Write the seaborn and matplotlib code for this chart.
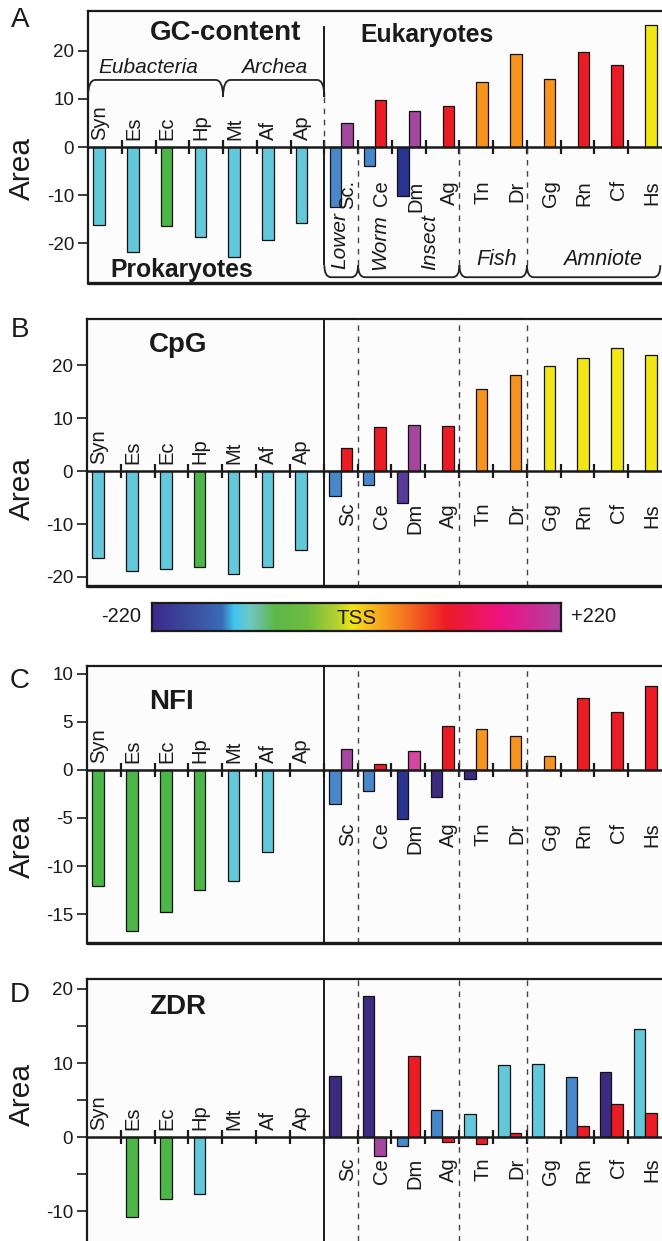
import numpy as np
import pandas as pd
import matplotlib
matplotlib.use("Agg")
import matplotlib.pyplot as plt
import seaborn as sns
from matplotlib.path import Path
from matplotlib.patches import PathPatch
from matplotlib.colors import LinearSegmentedColormap

# ---------------- data ----------------
species = ['Syn', 'Es', 'Ec', 'Hp', 'Mt', 'Af', 'Ap',
           'Sc', 'Ce', 'Dm', 'Ag', 'Tn', 'Dr', 'Gg', 'Rn', 'Cf', 'Hs']
N_PROK = 7
NaN = np.nan

# GC-content
gc_left = [-16.2, -21.7, -16.4, -18.7, -22.8, -19.2, -15.8,
           -12.4, -3.9, -10.2, NaN, NaN, NaN, NaN, NaN, NaN, NaN]
gc_left_col = ['cyan', 'cyan', 'green', 'cyan', 'cyan', 'cyan', 'cyan',
               'blue', 'blue', 'navy', None, None, None, None, None, None, None]
gc_right = [NaN, NaN, NaN, NaN, NaN, NaN, NaN,
            4.9, 9.75, 7.5, 8.5, 13.5, 19.2, 14.0, 19.6, 17.0, 25.3]
gc_right_col = [None, None, None, None, None, None, None,
                'purple', 'red', 'purple', 'red', 'orange', 'orange', 'orange', 'red', 'red', 'yellow']

# CpG
cpg_left = [-16.5, -18.9, -18.4, -18.2, -19.4, -18.2, -14.9,
            -4.8, -2.6, -6.1, NaN, NaN, NaN, NaN, NaN, NaN, NaN]
cpg_left_col = ['cyan', 'cyan', 'cyan', 'green', 'cyan', 'cyan', 'cyan',
                'blue', 'blue', 'violet', None, None, None, None, None, None, None]
cpg_right = [NaN, NaN, NaN, NaN, NaN, NaN, NaN,
             4.3, 8.4, 8.7, 8.5, 15.4, 18.1, 19.9, 21.3, 23.3, 21.9]
cpg_right_col = [None, None, None, None, None, None, None,
                 'red', 'red', 'purple', 'red', 'orange', 'orange', 'yellow', 'yellow', 'yellow', 'yellow']

# NFI
nfi_left = [-12.1, -16.8, -14.8, -12.5, -11.6, -8.5, NaN,
            -3.5, -2.2, -5.1, -2.8, -1.0, NaN, NaN, NaN, NaN, NaN]
nfi_left_col = ['green', 'green', 'green', 'green', 'cyan', 'cyan', None,
                'blue', 'blue', 'navy', 'indigo', 'indigo', None, None, None, None, None]
nfi_right = [NaN, NaN, NaN, NaN, NaN, NaN, NaN,
             2.2, 0.6, 2.0, 4.6, 4.3, 3.5, 1.46, 7.5, 6.0, 8.75]
nfi_right_col = [None, None, None, None, None, None, None,
                 'purple', 'red', 'magenta', 'red', 'orange', 'orange', 'orange', 'red', 'red', 'red']

# ZDR
zdr_left = [NaN, -10.85, -8.4, -7.7, NaN, NaN, NaN,
            8.3, 19.0, -1.2, 3.6, 3.1, 9.7, 9.9, 8.1, 8.8, 14.6]
zdr_left_col = [None, 'green', 'green', 'cyan', None, None, None,
                'indigo', 'indigo', 'blue', 'blue', 'cyan', 'cyan', 'cyan', 'blue', 'indigo', 'cyan']
zdr_right = [NaN, NaN, NaN, NaN, NaN, NaN, NaN,
             NaN, -2.5, 11.0, -0.7, -0.95, 0.6, NaN, 1.5, 4.4, 3.2]
zdr_right_col = [None, None, None, None, None, None, None,
                 None, 'purple', 'red', 'red', 'red', 'red', None, 'red', 'red', 'red']

COLORS = dict(cyan='#63c8da', green='#4cb748', blue='#4887c8', navy='#2b3590',
              indigo='#3d2b80', violet='#573a99', purple='#a4479e', magenta='#d5469f',
              red='#ec1c24', orange='#f7941d', yellow='#f1e616')

cbar_stops = [0.0, 0.10, 0.17, 0.20, 0.24, 0.30, 0.38, 0.45, 0.49, 0.55, 0.62, 0.72, 0.86, 1.0]
cbar_colors = ['#3c2a8c', '#3a50a0', '#3a6cb8', '#3fc6ee', '#72c6c4', '#5cb848', '#70bc40',
               '#b2d030', '#f2e414', '#f8ae20', '#f47420', '#ed1c24', '#ec1384', '#b043a0']

# ---------------- style ----------------
sns.set_theme(style="white")
plt.rcParams['font.family'] = ['Liberation Sans', 'DejaVu Sans']
plt.rcParams['axes.unicode_minus'] = False

W, H = 662, 1241
fig = plt.figure(figsize=(W / 100, H / 100), dpi=100)
fig.patch.set_facecolor('white')


def fx(px):
    return px / W


def fy(py):
    return 1 - py / H


def bracket(ax, x0, x1, yflat, yend, r=0.22):
    verts = [(x0, yend), (x0, yflat), (x0 + r, yflat), (x1 - r, yflat),
             (x1, yflat), (x1, yend)]
    codes = [Path.MOVETO, Path.CURVE3, Path.CURVE3, Path.LINETO, Path.CURVE3, Path.CURVE3]
    ax.add_patch(PathPatch(Path(verts, codes), fc='none', ec='#222222', lw=1.3, zorder=4))


def panel(rect, left, left_col, right, right_col, ylim, yticks, minor=None,
          below_off=24, title='', title_y=0.9, bottom_box=True, sc_label='Sc'):
    ax = fig.add_axes(rect)
    ax.set_facecolor('#fcfcfc')
    rows = []
    for i, sp in enumerate(species):
        if not np.isnan(left[i]):
            rows.append((sp, 'L', left[i], left_col[i]))
        if not np.isnan(right[i]):
            rows.append((sp, 'R', right[i], right_col[i]))
    df = pd.DataFrame(rows, columns=['species', 'pos', 'area', 'col'])
    sns.barplot(data=df, x='species', y='area', hue='pos', hue_order=['L', 'R'],
                order=species, dodge=True, width=0.68, gap=0, errorbar=None,
                edgecolor='#111111', linewidth=0.9, legend=False, ax=ax, zorder=3)
    lookup = {(r.species, r.pos): COLORS[r.col] for r in df.itertuples()}
    for p in ax.patches:
        xc = p.get_x() + p.get_width() / 2
        idx = int(round(xc))
        pos = 'L' if xc < idx else 'R'
        key = (species[idx], pos)
        if key in lookup:
            p.set_facecolor(lookup[key])
    ax.set_xlabel('')
    ax.set_ylabel('')
    ax.set_xlim(-0.5, 16.5)
    ax.set_ylim(*ylim)
    # axis at zero with in/out ticks at category boundaries
    ax.spines['bottom'].set_position(('data', 0))
    ax.spines['bottom'].set_linewidth(1.8)
    ax.spines['bottom'].set_zorder(5)
    ax.spines['right'].set_visible(False)
    for s in ('top', 'left'):
        ax.spines[s].set_linewidth(1.6)
        ax.spines[s].set_color('#1a1a1a')
    ax.spines['bottom'].set_color('#1a1a1a')
    ax.set_xticks(np.arange(0.5, 16, 1.0))
    ax.set_xticklabels([])
    ax.tick_params(axis='x', direction='inout', length=10, width=1.6, color='#1a1a1a', bottom=True)
    ax.set_yticks(yticks)
    ax.set_yticklabels([str(int(t)) for t in yticks])
    if minor is not None:
        ax.set_yticks(minor, minor=True)
    ax.tick_params(axis='y', which='both', direction='out', length=7, width=1.2,
                   labelsize=13.5, pad=3, left=True, color='#1a1a1a', labelcolor='#1a1a1a')
    if bottom_box:
        ax.plot([0, 1], [0, 0], transform=ax.transAxes, color='#1a1a1a', lw=2.4,
                clip_on=False, zorder=6)
    # category labels
    for i, sp in enumerate(species):
        if i < N_PROK:
            ax.annotate(sp, xy=(i - 0.15, 0), xytext=(0, 5), textcoords='offset points',
                        rotation=90, ha='center', va='bottom', fontsize=14.5, color='#1a1a1a')
        else:
            lab = sc_label if sp == 'Sc' else sp
            ax.annotate(lab, xy=(i + 0.2, 0), xytext=(0, -below_off), textcoords='offset points',
                        rotation=90, ha='center', va='top', fontsize=14.5, color='#1a1a1a')
    ax.text(0.108, title_y, title, transform=ax.transAxes, fontsize=20, fontweight='bold',
            ha='left', va='center', color='#1a1a1a')
    return ax


# ---------------- panel A ----------------
axA = panel([fx(88), fy(283), 1 - fx(88), (283 - 11) / H], gc_left, gc_left_col, gc_right,
            gc_right_col, (-28.2, 28.2), [-20, -10, 0, 10, 20], below_off=24,
            title='GC-content', title_y=0.919, sc_label='Sc.')
axA.vlines([6.5], 10.4, 25.0, colors='#1a1a1a', lw=1.4, zorder=4)
axA.vlines([6.5], -24.5, 0, colors='#1a1a1a', lw=1.4, zorder=4)
axA.vlines([6.5], 0, 10.4, colors='#444444', lw=1.0, linestyles=(0, (4, 4)), zorder=4)
axA.vlines([7.5, 10.5, 12.5], -24.5, 0, colors='#444444', lw=1.0, linestyles=(0, (4, 4)), zorder=4)
bracket(axA, -0.5, 3.5, 13.9, 10.4)
bracket(axA, 3.5, 6.5, 13.9, 10.4)
for x0, x1 in [(6.5, 7.5), (7.5, 10.5), (10.5, 12.5), (12.5, 16.45)]:
    bracket(axA, x0, x1, -27.0, -24.5, r=0.2)
axA.text(1.3, 16.4, 'Eubacteria', style='italic', fontsize=15, ha='center', va='center', color='#1a1a1a')
axA.text(5.0, 16.4, 'Archea', style='italic', fontsize=15, ha='center', va='center', color='#1a1a1a')
axA.text(6.96, -19.3, 'Lower', style='italic', fontsize=15, rotation=90, ha='center', va='center', color='#1a1a1a')
axA.text(8.15, -19.7, 'Worm', style='italic', fontsize=15, rotation=90, ha='center', va='center', color='#1a1a1a')
axA.text(9.63, -19.7, 'Insect', style='italic', fontsize=15, rotation=90, ha='center', va='center', color='#1a1a1a')
axA.text(11.6, -23.4, 'Fish', style='italic', fontsize=15.5, ha='center', va='center', color='#1a1a1a')
axA.text(14.75, -23.4, 'Amniote', style='italic', fontsize=15.5, ha='center', va='center', color='#1a1a1a')
axA.text(9.53, 23.2, 'Eukaryotes', fontweight='bold', fontsize=17.8, ha='center', va='center', color='#1a1a1a')
axA.text(2.27, -25.5, 'Prokaryotes', fontweight='bold', fontsize=17.8, ha='center', va='center', color='#1a1a1a')

# ---------------- panel B ----------------
axB = panel([fx(87), fy(586), 1 - fx(87), (586 - 319) / H], cpg_left, cpg_left_col, cpg_right,
            cpg_right_col, (-21.7, 28.7), [-20, -10, 0, 10, 20], below_off=23,
            title='CpG', title_y=0.903)

# ---------------- panel C ----------------
axC = panel([fx(87), fy(943), 1 - fx(87), (943 - 666) / H], nfi_left, nfi_left_col, nfi_right,
            nfi_right_col, (-18.0, 10.8), [-15, -10, -5, 0, 5, 10], below_off=38,
            title='NFI', title_y=0.870)

# ---------------- panel D ----------------
axD = panel([fx(87), 0.0, 1 - fx(87), (1241 - 979) / H], zdr_left, zdr_left_col, zdr_right,
            zdr_right_col, (-14.05, 21.35), [-10, 0, 10, 20], minor=[-5, 5, 15], below_off=15,
            title='ZDR', title_y=0.893, bottom_box=False)

for ax in (axB, axC, axD):
    lo, hi = ax.get_ylim()
    ax.vlines([6.5], lo, hi, colors='#1a1a1a', lw=1.4, zorder=4)
    ax.vlines([7.5, 10.5, 12.5], lo, hi, colors='#444444', lw=1.0, linestyles=(0, (4, 4)), zorder=4)

# ---------------- colour bar ----------------
cmap = LinearSegmentedColormap.from_list('tss', list(zip(cbar_stops, cbar_colors)))
cax = fig.add_axes([fx(152), fy(631), fx(561) - fx(152), (631 - 603) / H])
cax.imshow(np.linspace(0, 1, 512)[None, :], aspect='auto', cmap=cmap, extent=[0, 1, 0, 1])
cax.set_xticks([])
cax.set_yticks([])
for s in cax.spines.values():
    s.set_visible(True)
    s.set_linewidth(1.6)
    s.set_color('#1a1a1a')
cax.text(0.5, 0.45, 'TSS', transform=cax.transAxes, ha='center', va='center', fontsize=14.8, color='#1a1a1a')
fig.text(fx(121), fy(617), '-220', ha='center', va='center', fontsize=14.4, color='#1a1a1a')
fig.text(fx(594), fy(617), '+220', ha='center', va='center', fontsize=14.4, color='#1a1a1a')

# ---------------- panel letters & y labels ----------------
for letter, y in [('A', 20), ('B', 330), ('C', 681), ('D', 995)]:
    fig.text(fx(20), fy(y), letter, ha='center', va='center', fontsize=20, color='#1a1a1a')
for y in [168, 488, 847, 1095]:
    fig.text(fx(22), fy(y), 'Area', rotation=90, ha='center', va='center', fontsize=21.5, color='#1a1a1a')

fig.savefig('out.png', dpi=100)
